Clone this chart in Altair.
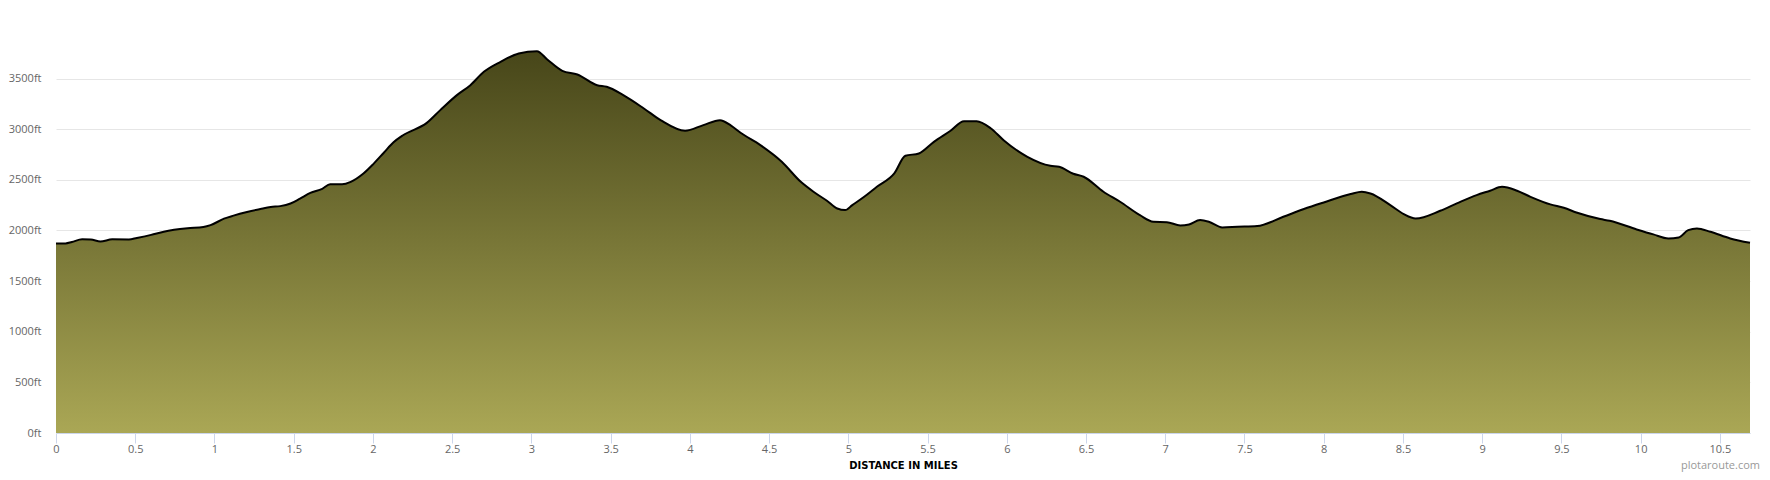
import altair as alt
import pandas as pd

miles = [0.0, 0.06, 0.1, 0.165, 0.22, 0.28, 0.355, 0.46, 0.51, 0.6, 0.68, 0.745, 0.83, 0.93,
         0.975, 1.06, 1.12, 1.205, 1.29, 1.355, 1.415, 1.48, 1.54, 1.605, 1.68, 1.73, 1.805,
         1.86, 1.94, 2.005, 2.07, 2.13, 2.19, 2.34, 2.425, 2.53, 2.615, 2.7, 2.805, 2.92,
         3.035, 3.1, 3.195, 3.29, 3.415, 3.475, 3.58, 3.71, 3.815, 3.97, 4.085, 4.19, 4.26,
         4.32, 4.445, 4.58, 4.7, 4.78, 4.865, 4.93, 4.98, 5.025, 5.1, 5.18, 5.29, 5.36,
         5.445, 5.54, 5.645, 5.73, 5.81, 5.9, 5.98, 6.13, 6.275, 6.33, 6.42, 6.485, 6.61,
         6.715, 6.84, 6.925, 7.01, 7.095, 7.15, 7.22, 7.275, 7.36, 7.455, 7.58, 7.745,
         7.875, 8.0, 8.17, 8.24, 8.295, 8.42, 8.505, 8.58, 8.735, 8.84, 8.965, 9.05,
         9.125, 9.22, 9.305, 9.43, 9.515, 9.6, 9.745, 9.805, 9.975, 10.08, 10.175, 10.24,
         10.3, 10.355, 10.44, 10.565, 10.69]

elevation_ft = [1872, 1872, 1886, 1912, 1910, 1891, 1912, 1911, 1926, 1956, 1988, 2006, 2022, 2034,
                2052, 2116, 2146, 2182, 2212, 2232, 2240, 2266, 2314, 2370, 2410, 2456, 2456,
                2480, 2562, 2660, 2770, 2870, 2940, 3062, 3188, 3336, 3434, 3566, 3665, 3747,
                3770, 3688, 3576, 3540, 3434, 3418, 3336, 3204, 3089, 2984, 3040, 3089, 3035,
                2964, 2842, 2678, 2480, 2382, 2293, 2217, 2201, 2250, 2332, 2431, 2563, 2737,
                2760, 2875, 2984, 3079, 3079, 3007, 2891, 2727, 2638, 2628, 2560, 2530, 2382,
                2283, 2151, 2086, 2082, 2049, 2059, 2102, 2086, 2030, 2036, 2043, 2135,
                2211, 2276, 2359, 2382, 2365, 2250, 2161, 2118, 2194, 2267, 2349, 2392,
                2431, 2392, 2332, 2257, 2224, 2174, 2112, 2095, 2010, 1961, 1921, 1931,
                2003, 2020, 1987, 1921, 1878]

x_ticks = [0, 0.5, 1, 1.5, 2, 2.5, 3, 3.5, 4, 4.5, 5, 5.5, 6, 6.5, 7, 7.5, 8, 8.5, 9, 9.5, 10, 10.5]
y_ticks = [0, 500, 1000, 1500, 2000, 2500, 3000, 3500]
x_title = "DISTANCE IN MILES"
watermark_text = ["plotaroute.com"]

df = pd.DataFrame({"mile": miles, "elev": elevation_ft})

x_enc = alt.X(
    "mile:Q",
    scale=alt.Scale(domain=[0, 10.69], nice=False, zero=False),
    axis=alt.Axis(
        values=x_ticks, labelExpr="datum.value", title=x_title, grid=False,
        domainColor="#ccd6eb", tickColor="#ccd6eb", tickSize=10,
        labelColor="#666666", labelFontSize=11, labelFont="Open Sans",
        labelPadding=0, labelFlush=False, labelOverlap=False,
        titleFont="DejaVu Sans", titleFontSize=10, titleFontWeight="bold",
        titleColor="#000000", titlePadding=6,
    ),
)
y_enc = alt.Y(
    "elev:Q",
    scale=alt.Scale(domain=[0, 3900], nice=False),
    axis=alt.Axis(
        values=y_ticks, labelExpr="datum.value + 'ft'", title=None, domain=False,
        ticks=False, tickSize=0, gridColor="#e6e6e6", labelPadding=15,
        labelColor="#666666", labelFontSize=11, labelFont="Open Sans",
    ),
)

gradient = alt.Gradient(
    gradient="linear",
    stops=[alt.GradientStop(color="#474619", offset=0),
           alt.GradientStop(color="#aaa755", offset=1)],
    x1=0, x2=0, y1=0, y2=1,
)

area = alt.Chart(df).mark_area(interpolate="monotone", color=gradient).encode(x=x_enc, y=y_enc)
line = alt.Chart(df).mark_line(interpolate="monotone", color="#000000", strokeWidth=2).encode(x=x_enc, y=y_enc)
wm = alt.Chart(pd.DataFrame({"t": watermark_text})).mark_text(
    align="right", baseline="alphabetic", fontSize=11, color="#999999", font="Open Sans"
).encode(text="t:N", x=alt.value(1704), y=alt.value(431))

chart = alt.layer(area, line, wm).properties(
    width=1694, height=395,
    padding={"left": 48, "top": 30, "right": 12, "bottom": 39},
    autosize=alt.AutoSizeParams(type="none"),
).configure_view(stroke=None)

chart.save("out.html", embed_options={"renderer": "svg", "actions": False})
